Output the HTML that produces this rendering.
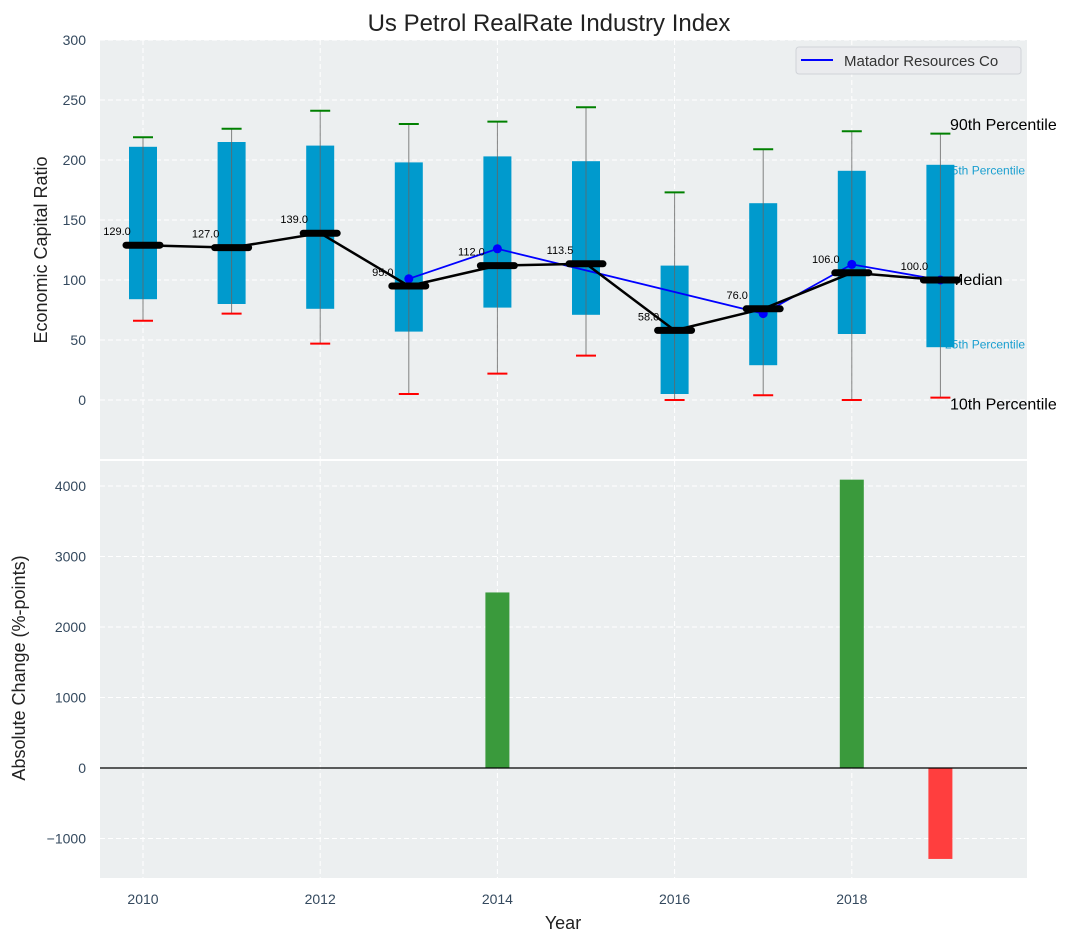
<!DOCTYPE html>
<html><head><meta charset="utf-8">
<style>
html,body{margin:0;padding:0;background:#fff;}
svg{display:block;font-family:"Liberation Sans","DejaVu Sans",sans-serif;}
</style></head>
<body>
<svg id="chart" width="1085" height="942" viewBox="0 0 1085 942" xmlns="http://www.w3.org/2000/svg">
<text x="549" y="31" text-anchor="middle" font-size="24" fill="#222">Us Petrol RealRate Industry Index</text>
<rect x="100" y="40" width="927" height="419" fill="#eceff0"/>
<rect x="100" y="461" width="927" height="417" fill="#eceff0"/>
<g id="grid"></g>
<g id="top"></g>
<g id="bottom"></g>
<g id="axes"></g>
<text transform="translate(47,250) rotate(-90)" text-anchor="middle" font-size="18" fill="#222">Economic Capital Ratio</text>
<text transform="translate(25,668) rotate(-90)" text-anchor="middle" font-size="18" fill="#222">Absolute Change (%-points)</text>
<text x="563" y="929" text-anchor="middle" font-size="18" fill="#222">Year</text>
<g>
<rect x="796" y="47" width="225" height="27" rx="3" fill="#eaebee" stroke="#d0d3d8"/>
<line x1="801" y1="60" x2="833" y2="60" stroke="#0000ff" stroke-width="2"/>
<text x="844" y="66" font-size="15" fill="#333">Matador Resources Co</text>
</g>
</svg>
<script>
const years=[2010,2011,2012,2013,2014,2015,2016,2017,2018,2019];
const p90=[219,226,241,230,232,244,173,209,224,222];
const p75=[211,215,212,198,203,199,112,164,191,196];
const median=[129,127,139,95,112,113.5,58,76,106,100];
const p25=[84,80,76,57,77,71,5,29,55,44];
const p10=[66,72,47,5,22,37,0,4,0,2];
const company=[null,null,null,101,126,null,null,72,113,100];
const changes=[0,0,0,0,2490,0,0,0,4090,-1290];
const topTicks=[0,50,100,150,200,250,300];
const botTicks=[-1000,0,1000,2000,3000,4000];
const xTicks=[2010,2012,2014,2016,2018];

const NS="http://www.w3.org/2000/svg";
const X=v=>143+(v-2010)*88.6;
const YT=v=>400-v*1.2;
const YB=v=>768-v*0.0705;
function mk(tag,attrs,parent,txt){const e=document.createElementNS(NS,tag);for(const k in attrs)e.setAttribute(k,attrs[k]);if(txt!==undefined)e.textContent=txt;document.getElementById(parent).appendChild(e);return e;}

xTicks.forEach(t=>{
 let g=mk('line',{x1:X(t),x2:X(t),y1:40,y2:459,stroke:'#fff','stroke-dasharray':'5,3','stroke-width':1},'grid');
 
 g=mk('line',{x1:X(t),x2:X(t),y1:461,y2:878,stroke:'#fff','stroke-dasharray':'5,3','stroke-width':1},'grid');
 
 const l=mk('text',{x:X(t),y:904,'text-anchor':'middle','font-size':14,fill:'#34495e'},'axes',t);
 
});
topTicks.forEach(t=>{
 const g=mk('line',{x1:100,x2:1027,y1:YT(t),y2:YT(t),stroke:'#fff','stroke-dasharray':'5,3'},'grid');
 
 const l=mk('text',{x:86,y:YT(t)+5,'text-anchor':'end','font-size':14,fill:'#34495e'},'axes',t);
 
});
botTicks.forEach(t=>{
 const g=mk('line',{x1:100,x2:1027,y1:YB(t),y2:YB(t),stroke:'#fff','stroke-dasharray':'5,3'},'grid');
 
 const l=mk('text',{x:86,y:YB(t)+5,'text-anchor':'end','font-size':14,fill:'#34495e'},'axes',t<0?'\u2212'+Math.abs(t):t);
 
});

const i9=years.length-1;
[[p90[i9]+8,'90th Percentile','#000',16,950],[p75[i9]-3,'75th Percentile','#1a9fd0',12,945],[median[i9]+1,'Median','#000',16,950],[p25[i9]+4,'25th Percentile','#1a9fd0',12,945],[p10[i9]-5,'10th Percentile','#000',16,950]].forEach(d=>{
 const t=mk('text',{x:d[4],y:YT(d[0])+6,'font-size':d[3],fill:d[2]},'top',d[1]);
 
});

years.forEach((y,i)=>{
 const x=X(y);
 let e=mk('rect',{x:x-14,y:YT(p75[i]),width:28,height:YT(p25[i])-YT(p75[i]),fill:'#009ACD'},'top');
 
 e=mk('line',{x1:x,x2:x,y1:YT(p90[i]),y2:YT(p10[i]),stroke:'#666','stroke-width':1,opacity:0.8},'top');
 
 e=mk('line',{x1:x-10,x2:x+10,y1:YT(p90[i]),y2:YT(p90[i]),stroke:'#008000','stroke-width':2},'top');
 
 e=mk('line',{x1:x-10,x2:x+10,y1:YT(p10[i]),y2:YT(p10[i]),stroke:'#ff0000','stroke-width':2},'top');
 
});
const cp=years.map((y,i)=>company[i]==null?null:[X(y),YT(company[i])]).filter(p=>p);
let cl=mk('polyline',{points:cp.map(p=>p.join(',')).join(' '),fill:'none',stroke:'#0000ff','stroke-width':1.8},'top');

cp.forEach(p=>{const c=mk('circle',{cx:p[0],cy:p[1],r:4.5,fill:'#0000ff'},'top');});
let ml=mk('polyline',{points:years.map((y,i)=>X(y)+','+YT(median[i])).join(' '),fill:'none',stroke:'#000','stroke-width':2.5},'top');

years.forEach((y,i)=>{
 const x=X(y);
 let e=mk('line',{x1:x-17,x2:x+17,y1:YT(median[i]),y2:YT(median[i]),stroke:'#000','stroke-width':7,'stroke-linecap':'round'},'top');
 
 e=mk('text',{x:x-26,y:YT(median[i])-10,'font-size':11,'text-anchor':'middle',fill:'#000'},'top',median[i].toFixed(1));
 
});

years.forEach((y,i)=>{
 if(!changes[i])return;
 const v=changes[i];
 const b=mk('rect',{x:X(y)-12,y:Math.min(YB(v),YB(0)),width:24,height:Math.abs(YB(v)-YB(0)),fill:v>0?'#3a9a3c':'#ff3e3e'},'bottom');
 
});
let z=mk('line',{x1:100,x2:1027,y1:YB(0),y2:YB(0),stroke:'#000','stroke-width':1.2},'bottom');

</script>
</body></html>
